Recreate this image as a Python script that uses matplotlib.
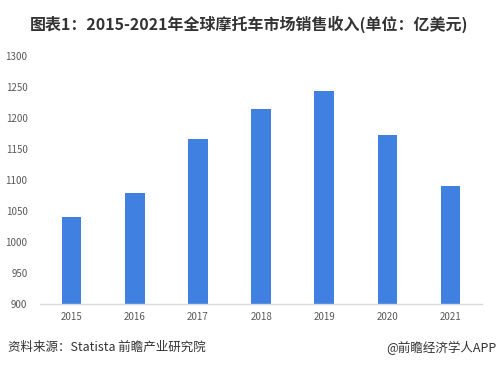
import matplotlib
matplotlib.use('Agg')
import matplotlib.pyplot as plt

plt.rcParams['font.family'] = ['Noto Sans CJK SC', 'DejaVu Sans']

years = ['2015', '2016', '2017', '2018', '2019', '2020', '2021']
revenue = [1040, 1079, 1166, 1215, 1244, 1173, 1090]
y_ticks = [900, 950, 1000, 1050, 1100, 1150, 1200, 1250, 1300]

fig = plt.figure(figsize=(4.98, 3.68), dpi=100)
ax = fig.add_axes([0.0803, 0.174, 0.888, 0.674])

# bars start from the 900 baseline
x = range(len(years))
ax.bar(x, [v - 900 for v in revenue], bottom=900, width=0.31, color='#3F80E0')

ax.set_xlim(-0.5, 6.5)
ax.set_ylim(900, 1300)
ax.set_xticks(list(x))
ax.set_xticklabels(years)
ax.set_yticks(y_ticks)
ax.tick_params(axis='both', length=0, labelsize=7, colors='#595959')
ax.tick_params(axis='y', pad=9)
ax.tick_params(axis='x', pad=6)

for side in ['top', 'right', 'left']:
    ax.spines[side].set_visible(False)
ax.spines['bottom'].set_color('#D9D9D9')
ax.spines['bottom'].set_linewidth(1)

fig.text(0.5, 0.935, '图表1：2015-2021年全球摩托车市场销售收入(单位：亿美元)',
         ha='center', va='center', fontsize=11.5, fontweight='bold', color='#333333')
fig.text(0.016, 0.055, '资料来源：Statista 前瞻产业研究院',
         ha='left', va='center', fontsize=9, color='#333333')
fig.text(0.996, 0.055, '@前瞻经济学人APP',
         ha='right', va='center', fontsize=9, color='#333333')

fig.savefig('out.png', dpi=100)
